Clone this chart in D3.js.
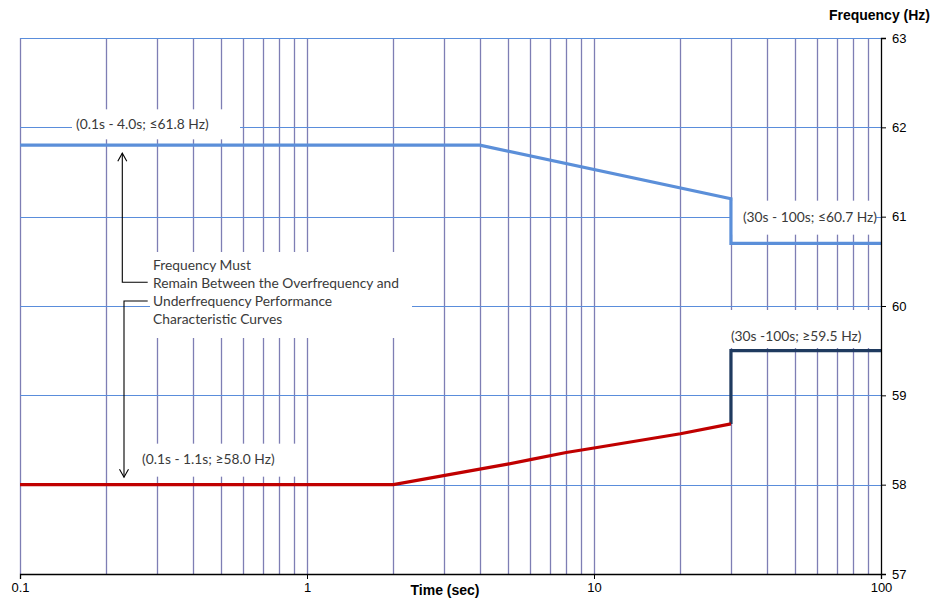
<!DOCTYPE html>
<html><head><meta charset="utf-8">
<script src="https://cdn.jsdelivr.net/npm/d3@7"></script>
<style>
body{margin:0;background:#fff;}
svg{display:block;}
.ann{font-family:Lato,"Open Sans",sans-serif;font-size:13.8px;fill:#3a3a3a;}
.tick text{font-family:"Liberation Sans",Arial,sans-serif;font-size:13px;fill:#000;}
</style></head><body>
<script>
// ---- data ----
const overTime  = [0.1, 4, 30, 30, 100];
const overFreq  = [61.8, 61.8, 61.2, 60.7, 60.7];
const underTime = [0.1, 2, 5, 6, 8, 10, 20, 30];
const underFreq = [58.0, 58.0, 58.23, 58.28, 58.36, 58.41, 58.57, 58.68];
const stepTime  = [30, 30, 100];
const stepFreq  = [58.68, 59.5, 59.5];
const xTickValues = [0.1, 1, 10, 100];
const xTickLabels = ["0.1", "1", "10", "100"];
const yTickValues = [57, 58, 59, 60, 61, 62, 63];
const yTickLabels = ["57", "58", "59", "60", "61", "62", "63"];

const W = 932, H = 603;
const L = 20, R = 881, T = 38, B = 574;
const svg = d3.select("body").append("svg").attr("width", W).attr("height", H);

const x = d3.scaleLog().domain([0.1, 100]).range([L, R]);
const y = d3.scaleLinear().domain([57, 63]).range([B, T]);

// minor vertical grid
const vg = [];
[0.1, 1, 10].forEach(d => { for (let k = 1; k <= 9; k++) vg.push(d * k); });
svg.append("g").selectAll("line").data(vg).join("line")
  .attr("x1", d => Math.round(x(d)) + 0.5).attr("x2", d => Math.round(x(d)) + 0.5)
  .attr("y1", T).attr("y2", B)
  .attr("stroke", "#7e7eb4").attr("stroke-width", 1.3);
// horizontal grid
svg.append("g").selectAll("line").data(yTickValues.filter(v => v > 57)).join("line")
  .attr("x1", L).attr("x2", R)
  .attr("y1", d => Math.round(y(d)) + 0.5).attr("y2", d => Math.round(y(d)) + 0.5)
  .attr("stroke", "#5a8ddb").attr("stroke-width", 1.2);

// white label boxes (anchored via scales)
const boxes = [
  [x(0.1) + 52, y(62) - 18, 168, 30],
  [x(30) + 0, y(61) - 16, 145, 34],
  [x(30) - 5, y(60) + 4, 150, 38],
  [x(0.1) + 118, y(58) - 41, 162, 33],
  [x(0.1) + 130, y(60) - 54, 262, 86]
];
svg.append("g").selectAll("rect").data(boxes).join("rect")
  .attr("x", d => d[0]).attr("y", d => d[1]).attr("width", d => d[2]).attr("height", d => d[3])
  .attr("fill", "#fff");

const line = d3.line().x(d => x(d[0])).y(d => y(d[1]));
svg.append("path").datum(overTime.map((t, i) => [t, overFreq[i]]))
  .attr("d", line).attr("fill", "none").attr("stroke", "#5b8fd9").attr("stroke-width", 3.2);
svg.append("path").datum(stepTime.map((t, i) => [t, stepFreq[i]]))
  .attr("d", line).attr("fill", "none").attr("stroke", "#1f3a5f").attr("stroke-width", 3.2);
svg.append("path").datum(underTime.map((t, i) => [t, underFreq[i]]))
  .attr("d", line).attr("fill", "none").attr("stroke", "#c00000").attr("stroke-width", 3.2);

// axes
const xAxis = d3.axisBottom(x).tickValues(xTickValues).tickFormat((d, i) => xTickLabels[i]).tickSize(5).tickPadding(4);
const gx = svg.append("g").attr("transform", `translate(0,${B})`).call(xAxis);
gx.select(".domain").attr("stroke", "#000").attr("stroke-width", 1.3);
const yAxis = d3.axisRight(y).tickValues(yTickValues).tickFormat((d, i) => yTickLabels[i]).tickSize(5).tickPadding(6);
const gy = svg.append("g").attr("transform", `translate(${R},0)`).call(yAxis);
gy.select(".domain").attr("stroke", "#000").attr("stroke-width", 1.3);

svg.append("text").attr("x", 930).attr("y", 20).attr("text-anchor", "end")
  .style("font-family", "'Liberation Sans',Arial,sans-serif").style("font-weight", "bold").style("font-size", "14px")
  .text("Frequency (Hz)");
svg.append("text").attr("x", 445).attr("y", 595).attr("text-anchor", "middle")
  .style("font-family", "'Liberation Sans',Arial,sans-serif").style("font-weight", "bold").style("font-size", "14px")
  .text("Time (sec)");

// annotations
const ann = svg.append("g").attr("class", "ann");
ann.append("text").attr("x", x(0.1) + 56).attr("y", y(62) + 2).text("(0.1s - 4.0s; \u226461.8 Hz)");
ann.append("text").attr("x", x(30) + 12).attr("y", y(61) + 5).text("(30s - 100s; \u226460.7 Hz)");
ann.append("text").attr("x", x(30)).attr("y", y(60) + 35).text("(30s -100s; \u226559.5 Hz)");
ann.append("text").attr("x", x(0.1) + 122).attr("y", y(58) - 21).text("(0.1s - 1.1s; \u226558.0 Hz)");
const block = ["Frequency Must", "Remain Between the Overfrequency and", "Underfrequency Performance", "Characteristic Curves"];
ann.selectAll(".blk").data(block).join("text").attr("class", "blk")
  .attr("x", x(0.1) + 133).attr("y", (d, i) => y(60) - 36.5 + i * 18.3).text(d => d);

// arrows
const ax1 = x(0.1) + 102.3, ax2 = x(0.1) + 104;
const topTip = y(61.8) + 8, botTip = y(58) - 7.5;
const bendA = y(60) - 23.7, bendB = y(60) - 5;
const bx = x(0.1) + 127.7;
const arr = svg.append("g").attr("fill", "none").attr("stroke", "#000").attr("stroke-width", 1.1);
arr.append("path").attr("d", `M${bx},${bendA}H${ax1}V${topTip}`);
arr.append("path").attr("d", `M${ax1 - 4.5},${topTip + 8}L${ax1},${topTip}L${ax1 + 4.5},${topTip + 8}`);
arr.append("path").attr("d", `M${bx},${bendB}H${ax2}V${botTip}`);
arr.append("path").attr("d", `M${ax2 - 4.5},${botTip - 8}L${ax2},${botTip}L${ax2 + 4.5},${botTip - 8}`);
</script>
</body></html>
